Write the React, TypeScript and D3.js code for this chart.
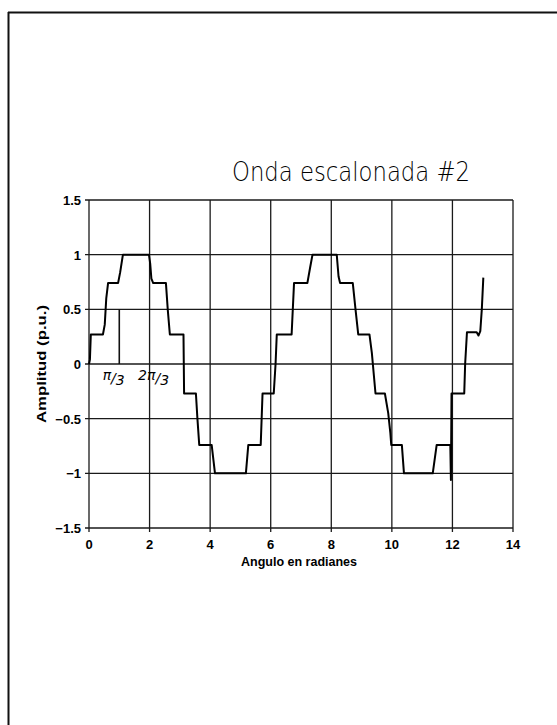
import React, { useEffect, useRef } from "react";
import * as d3 from "d3";

// staircase wave: angle (rad) vs amplitude (p.u.)
const angle = [
	0.0, 0.03, 0.06, 0.46, 0.52, 0.57, 0.63, 0.96, 1.03, 1.12, 1.98, 2.02, 2.06, 2.12, 2.54, 2.6, 2.67, 3.09, 3.12,
	3.14, 3.53, 3.58, 3.64, 4.05, 4.16, 5.18, 5.26, 5.67, 5.73, 6.1, 6.16, 6.2, 6.69, 6.77, 7.21, 7.3, 7.38, 8.18, 8.24,
	8.29, 8.71, 8.8, 8.89, 9.26, 9.34, 9.46, 9.77, 9.88, 9.95, 9.98, 10.33, 10.4, 11.35, 11.48, 11.87, 11.93, 11.95,
	11.97, 12.39, 12.42, 12.48, 12.8, 12.86, 12.92, 12.97, 13.02,
];
const amplitude = [
	0.0, 0.04, 0.27, 0.27, 0.36, 0.6, 0.74, 0.74, 0.84, 1.0, 1.0, 0.92, 0.78, 0.74, 0.74, 0.5, 0.27, 0.27, 0.27, -0.27,
	-0.27, -0.5, -0.74, -0.74, -1.0, -1.0, -0.74, -0.74, -0.27, -0.27, 0.0, 0.27, 0.27, 0.74, 0.74, 0.88, 1.0, 1.0, 0.8,
	0.74, 0.74, 0.5, 0.27, 0.27, 0.1, -0.27, -0.27, -0.45, -0.63, -0.74, -0.74, -1.0, -1.0, -0.74, -0.74, -0.74, -1.06,
	-0.27, -0.27, 0.0, 0.29, 0.29, 0.26, 0.3, 0.5, 0.79,
];

const xTicks = [0, 2, 4, 6, 8, 10, 12, 14];
const yTicks = [1.5, 1, 0.5, 0, -0.5, -1, -1.5];
const yTickLabels = ["1.5", "1", "0.5", "0", "\u22120.5", "\u22121", "\u22121.5"];

const title = "Onda escalonada #2";
const xLabel = "Angulo en radianes";
const yLabel = "Amplitud (p.u.)";

// pi/3 marker and the fraction labels under the zero line
const markerAngle = 1.0;
const markerTop = 0.5;
const fracNumer = ["\u03c0", "2\u03c0"];
const fracAt = [0.45, 1.62];

const App = () => {
	const svgRef = useRef<SVGSVGElement>(null);

	useEffect(() => {
		const svg = d3.select(svgRef.current);
		svg.selectAll("*").remove();

		const x = d3.scaleLinear().domain([0, 14]).range([89, 513]);
		const y = d3.scaleLinear().domain([-1.5, 1.5]).range([528, 200]);

		// page frame (top and left edges only, like the scan)
		svg.append("line").attr("x1", 8).attr("x2", 557).attr("y1", 12.5).attr("y2", 12.5)
			.attr("stroke", "#111").attr("stroke-width", 2);
		svg.append("line").attr("x1", 8.5).attr("x2", 8.5).attr("y1", 12).attr("y2", 725)
			.attr("stroke", "#111").attr("stroke-width", 2);

		svg.append("text")
			.attr("x", 232).attr("y", 181)
			.attr("textLength", 238).attr("lengthAdjust", "spacingAndGlyphs")
			.style("font-family", "DejaVu Sans").style("font-weight", 200).style("font-size", "27px")
			.text(title);

		const grid = svg.append("g").attr("stroke", "#1a1a1a").attr("stroke-width", 1.3);
		grid.selectAll("line.v").data(xTicks).join("line").attr("class", "v")
			.attr("x1", (d) => x(d)).attr("x2", (d) => x(d)).attr("y1", y(1.5)).attr("y2", y(-1.5) + 4);
		grid.selectAll("line.h").data(yTicks).join("line").attr("class", "h")
			.attr("x1", x(0) - 4).attr("x2", x(14)).attr("y1", (d) => y(d)).attr("y2", (d) => y(d));

		const tickFont = (sel) => sel.style("font-family", "Liberation Sans").style("font-weight", "bold").style("font-size", "13px");

		svg.append("g").selectAll("text").data(xTicks).join("text")
			.attr("x", (d) => x(d)).attr("y", y(-1.5) + 21).attr("text-anchor", "middle")
			.call(tickFont).text((d) => d);

		svg.append("g").selectAll("text").data(yTicks).join("text")
			.attr("x", x(0) - 8).attr("y", (d) => y(d) + 5).attr("text-anchor", "end")
			.call(tickFont).text((d, i) => yTickLabels[i]);

		svg.append("text")
			.attr("x", 299).attr("y", 566).attr("text-anchor", "middle")
			.attr("textLength", 116).attr("lengthAdjust", "spacingAndGlyphs")
			.style("font-family", "Liberation Sans").style("font-weight", "bold").style("font-size", "12px")
			.text(xLabel);

		svg.append("text")
			.attr("transform", `translate(46,${y(0)}) rotate(-90)`)
			.attr("text-anchor", "middle")
			.attr("textLength", 118).attr("lengthAdjust", "spacingAndGlyphs")
			.style("font-family", "Liberation Sans").style("font-weight", "bold").style("font-size", "12px")
			.text(yLabel);

		// pi/3 marker
		svg.append("line")
			.attr("x1", x(markerAngle)).attr("x2", x(markerAngle)).attr("y1", y(markerTop)).attr("y2", y(0))
			.attr("stroke", "#111").attr("stroke-width", 1.6);

		const frac = svg.append("g").selectAll("text").data(fracNumer).join("text")
			.attr("x", (d, i) => x(fracAt[i])).attr("y", y(0) + 19)
			.style("font-family", "DejaVu Sans").style("font-style", "italic").style("font-size", "14px");
		frac.append("tspan").attr("dy", -3).text((d) => d);
		frac.append("tspan").attr("dy", 3).text("/");
		frac.append("tspan").attr("dy", 2).text("3");

		const line = d3.line<number>().x((d) => x(d)).y((d, i) => y(amplitude[i]));
		svg.append("path")
			.attr("d", line(angle))
			.attr("fill", "none")
			.attr("stroke", "#000")
			.attr("stroke-width", 2)
			.attr("stroke-linejoin", "round");
	}, []);

	return (
		<svg ref={svgRef} width={557} height={725}
			style={{ position: "absolute", left: 0, top: 0, background: "#fff", display: "block" }}></svg>
	);
};

export default App;
